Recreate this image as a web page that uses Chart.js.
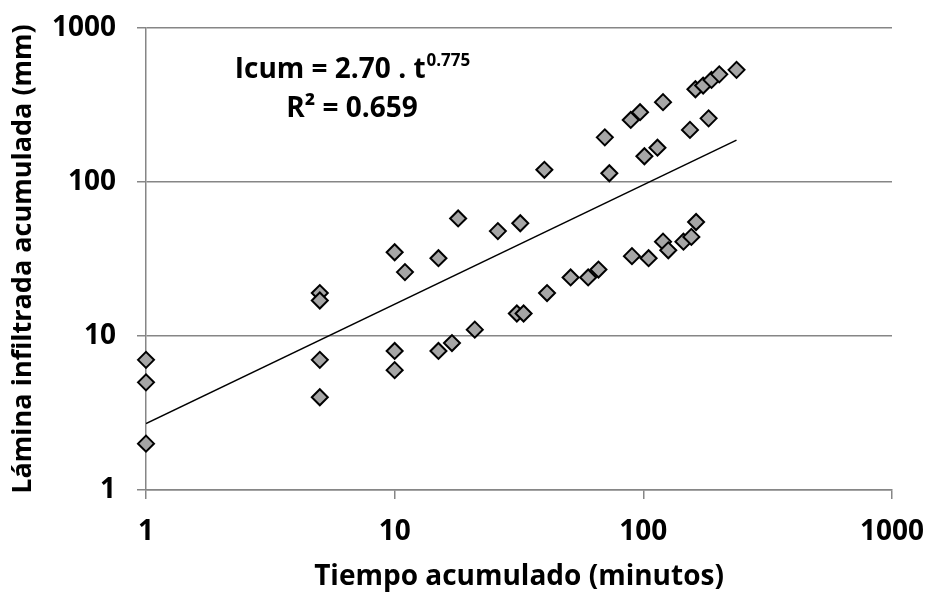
<!DOCTYPE html>
<html>
<head>
<meta charset="utf-8">
<title>Lámina infiltrada acumulada</title>
<script src="https://cdn.jsdelivr.net/npm/chart.js@4.4.1/dist/chart.umd.min.js"></script>
<style>
  html, body { margin: 0; padding: 0; background: #fff; }
  #wrap { width: 928px; height: 594px; }
</style>
</head>
<body>
<div id="wrap"><canvas id="chart"></canvas></div>
<script>
// measured infiltration: cumulative time (min) and cumulative depth (mm)
const timeMin = [
  1, 1, 1,
  5, 5, 5, 5,
  10, 10, 10, 11,
  15, 15, 17, 18, 21, 26, 31, 32, 33,
  40, 41, 51, 60, 66, 70, 73,
  89, 90, 97, 101, 105, 114,
  120, 120, 126, 145, 154, 156,
  162, 163, 174, 183, 188, 202, 237
];
const laminaMm = [
  7, 5, 2,
  19, 17, 7, 4,
  35, 8, 6, 26,
  32, 8, 9, 58, 11, 48, 14, 54, 14,
  120, 19, 24, 24, 27, 195, 114,
  253, 33, 284, 147, 32, 167,
  330, 41, 36, 41, 218, 44,
  400, 55, 423, 259, 460, 500, 535
];

const xTicks = [1, 10, 100, 1000];
const yTicks = [1, 10, 100, 1000];

// power fit Icum = a . t^b
const fitCoef = 2.70;
const fitExp = 0.775;
const fitR2 = 0.659;

const FONT = '"Open Sans", "Noto Sans", sans-serif';
const AXIS_GREY = '#868686';

const points = timeMin.map((t, i) => ({ x: t, y: laminaMm[i] }));
const tFirst = Math.min(...timeMin);
const tLast = Math.max(...timeMin);
const fitLine = [tFirst, tLast].map(t => ({ x: t, y: fitCoef * Math.pow(t, fitExp) }));

const equationLabel = {
  id: 'equationLabel',
  afterDatasetsDraw(chart) {
    const ctx = chart.ctx;
    const cx = chart.chartArea.left + 206;
    ctx.save();
    ctx.fillStyle = '#000';
    ctx.textBaseline = 'alphabetic';
    ctx.textAlign = 'left';

    const main = 'Icum = ' + fitCoef.toFixed(2) + ' . t';
    const sup = fitExp.toFixed(3);
    ctx.font = 'bold 28px ' + FONT;
    const wMain = ctx.measureText(main).width;
    ctx.font = 'bold 17px ' + FONT;
    const wSup = ctx.measureText(sup).width;
    const x0 = cx - (wMain + wSup) / 2;
    ctx.font = 'bold 28px ' + FONT;
    ctx.fillText(main, x0, 78);
    ctx.font = 'bold 17px ' + FONT;
    ctx.fillText(sup, x0 + wMain + 1, 66);

    ctx.font = 'bold 28px ' + FONT;
    ctx.textAlign = 'center';
    ctx.fillText('R² = ' + fitR2.toFixed(3), cx, 117);
    ctx.restore();
  }
};

new Chart(document.getElementById('chart'), {
  data: {
    datasets: [
      {
        type: 'line',
        data: fitLine,
        borderColor: '#000',
        borderWidth: 1.5,
        pointRadius: 0,
        fill: false,
        order: 1,
      },
      {
        type: 'scatter',
        data: points,
        pointStyle: 'rectRot',
        pointRadius: 8,
        backgroundColor: '#a6a6a6',
        borderColor: '#000',
        borderWidth: 2,
        clip: false,
        order: 2,
      },
    ],
  },
  options: {
    responsive: true,
    maintainAspectRatio: false,
    animation: false,
    events: [],
    layout: {
      padding: { top: 28, right: 36, left: 0, bottom: 0 },
    },
    plugins: {
      legend: { display: false },
      tooltip: { enabled: false },
    },
    scales: {
      x: {
        type: 'logarithmic',
        position: 'bottom',
        min: 1,
        max: 1000,
        afterBuildTicks: axis => { axis.ticks = xTicks.map(v => ({ value: v })); },
        afterFit: axis => {
          axis.height = 104;
          axis.paddingLeft = 0;
          axis.paddingRight = 0;
        },
        ticks: {
          padding: 16,
          color: '#000',
          font: { family: FONT, size: 28, weight: 'bold' },
          callback: v => String(v),
        },
        grid: {
          drawOnChartArea: false,
          drawTicks: true,
          tickLength: 9,
          color: AXIS_GREY,
          lineWidth: 1.5,
        },
        border: { color: AXIS_GREY, width: 1.5 },
        title: {
          display: true,
          text: 'Tiempo acumulado (minutos)',
          color: '#000',
          font: { family: FONT, size: 28, weight: 'bold' },
          padding: { top: 0, bottom: 0 },
        },
      },
      y: {
        type: 'logarithmic',
        min: 1,
        max: 1000,
        afterBuildTicks: axis => { axis.ticks = yTicks.map(v => ({ value: v })); },
        afterFit: axis => {
          axis.width = 146;
          axis.paddingTop = 0;
          axis.paddingBottom = 0;
        },
        ticks: {
          padding: 21,
          color: '#000',
          font: { family: FONT, size: 28, weight: 'bold' },
          callback: v => String(v),
        },
        grid: {
          drawTicks: true,
          tickLength: 9,
          color: AXIS_GREY,
          lineWidth: 1.5,
        },
        border: { color: AXIS_GREY, width: 1.5 },
        title: {
          display: true,
          text: 'Lámina infiltrada acumulada (mm)',
          color: '#000',
          font: { family: FONT, size: 27, weight: 'bold' },
          padding: { top: 7, bottom: 0 },
        },
      },
    },
  },
  plugins: [equationLabel],
});
</script>
</body>
</html>
